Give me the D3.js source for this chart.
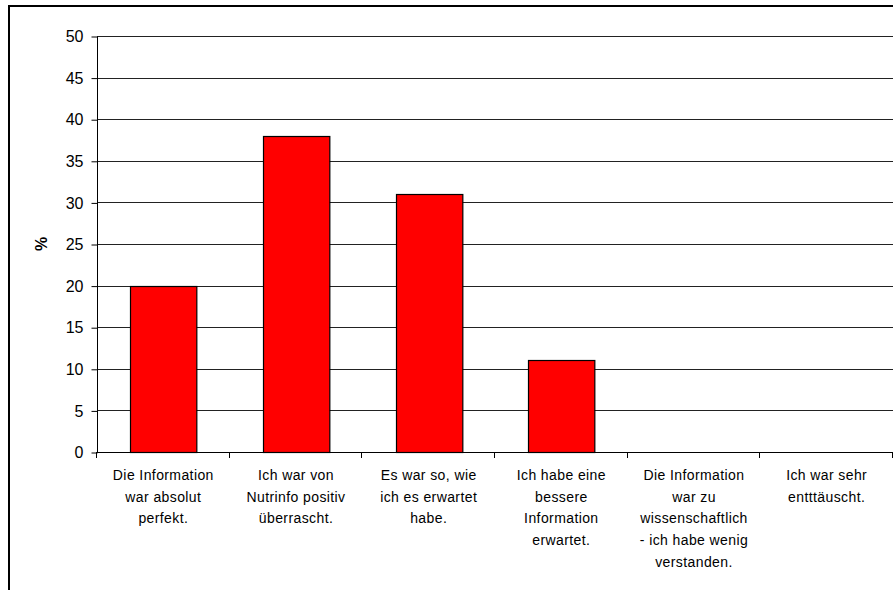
<!DOCTYPE html>
<html>
<head>
<meta charset="utf-8">
<script src="https://cdn.jsdelivr.net/npm/d3@7/dist/d3.min.js"></script>
<style>
html,body{margin:0;padding:0;background:#fff;overflow:hidden;}
svg{display:block;}
text{font-family:"Liberation Sans",Arial,sans-serif;fill:#000;}
</style>
</head>
<body>
<svg id="chart" width="893" height="590"></svg>
<script>
const categories = [
  "Die Information war absolut perfekt.",
  "Ich war von Nutrinfo positiv überrascht.",
  "Es war so, wie ich es erwartet habe.",
  "Ich habe eine bessere Information erwartet.",
  "Die Information war zu wissenschaftlich - ich habe wenig verstanden.",
  "Ich war sehr entttäuscht."
];
const categoryLines = [
  ["Die Information", "war absolut", "perfekt."],
  ["Ich war von", "Nutrinfo positiv", "überrascht."],
  ["Es war so, wie", "ich es erwartet", "habe."],
  ["Ich habe eine", "bessere", "Information", "erwartet."],
  ["Die Information", "war zu", "wissenschaftlich", "- ich habe wenig", "verstanden."],
  ["Ich war sehr", "entttäuscht."]
];
const values = [20, 38, 31, 11, 0, 0];
const yTicks = [0, 5, 10, 15, 20, 25, 30, 35, 40, 45, 50];
const yLabel = "%";

(function () {
const svg = d3.select("#chart");
const pLeft = 97, pRight = 893, pTop = 36, pBottom = 452;

// outer frame
svg.append("rect").attr("x", 9).attr("y", 6).attr("width", 900).attr("height", 600)
  .attr("fill", "none").attr("stroke", "#000").attr("stroke-width", 2);

const x = d3.scaleBand().domain(categories).range([pLeft, pRight]).paddingInner(0.5).paddingOuter(0.25);
const y = d3.scaleLinear().domain([0, 50]).range([pBottom, pTop]);

// gridlines
svg.append("g").selectAll("line").data(yTicks.filter(d => d > 0)).join("line")
  .attr("x1", pLeft).attr("x2", pRight)
  .attr("y1", d => Math.round(y(d)) + 0.5).attr("y2", d => Math.round(y(d)) + 0.5)
  .attr("stroke", "#222").attr("stroke-width", 1);

// bars
svg.append("g").selectAll("rect").data(values).join("rect")
  .attr("x", (d, i) => Math.round(x(categories[i])) + 0.5)
  .attr("y", d => Math.round(y(d)) + 0.5)
  .attr("width", x.bandwidth())
  .attr("height", d => Math.round(y(0)) - Math.round(y(d)))
  .attr("fill", "#ff0000").attr("stroke", "#000").attr("stroke-width", 1.2)
  .style("display", d => d > 0 ? null : "none");

// y axis
const yAxis = d3.axisLeft(y).tickValues(yTicks).tickSize(6).tickPadding(8).tickFormat(d3.format("d"));
const gy = svg.append("g").attr("transform", `translate(${pLeft + 0.5},0.5)`).call(yAxis);
gy.select(".domain").attr("stroke", "#000").attr("d", `M0,${pTop}V${pBottom}`);
gy.selectAll(".tick line").attr("stroke", "#000");
gy.selectAll(".tick text").attr("font-size", 16).attr("font-family", '"Liberation Sans",Arial,sans-serif');

// x axis
const boundaries = d3.range(categories.length + 1).map(i => pLeft + i * (pRight - pLeft) / categories.length);
const gx = svg.append("g");
gx.append("line").attr("x1", pLeft).attr("x2", pRight).attr("y1", pBottom + 0.5).attr("y2", pBottom + 0.5).attr("stroke", "#000");
gx.selectAll("line.tk").data(boundaries).join("line").attr("class", "tk")
  .attr("x1", d => Math.round(d) - 0.5).attr("x2", d => Math.round(d) - 0.5)
  .attr("y1", pBottom).attr("y2", pBottom + 6).attr("stroke", "#000");

// category labels
const lbl = svg.append("g").selectAll("text").data(categories).join("text")
  .attr("text-anchor", "middle")
  .attr("font-size", 14)
  .attr("letter-spacing", "0.4px")
  .attr("transform", d => `translate(${x(d) + x.bandwidth() / 2},480)`);
lbl.each(function(d, i) {
  d3.select(this).selectAll("tspan").data(categoryLines[i]).join("tspan")
    .attr("x", 0).attr("y", (t, j) => j * 21.7).text(t => t);
});

// y label
svg.append("text").attr("transform", "translate(47,244) rotate(-90)")
  .attr("text-anchor", "middle").attr("font-size", 16).attr("font-weight", "bold").text(yLabel);
})();
</script>
</body>
</html>
